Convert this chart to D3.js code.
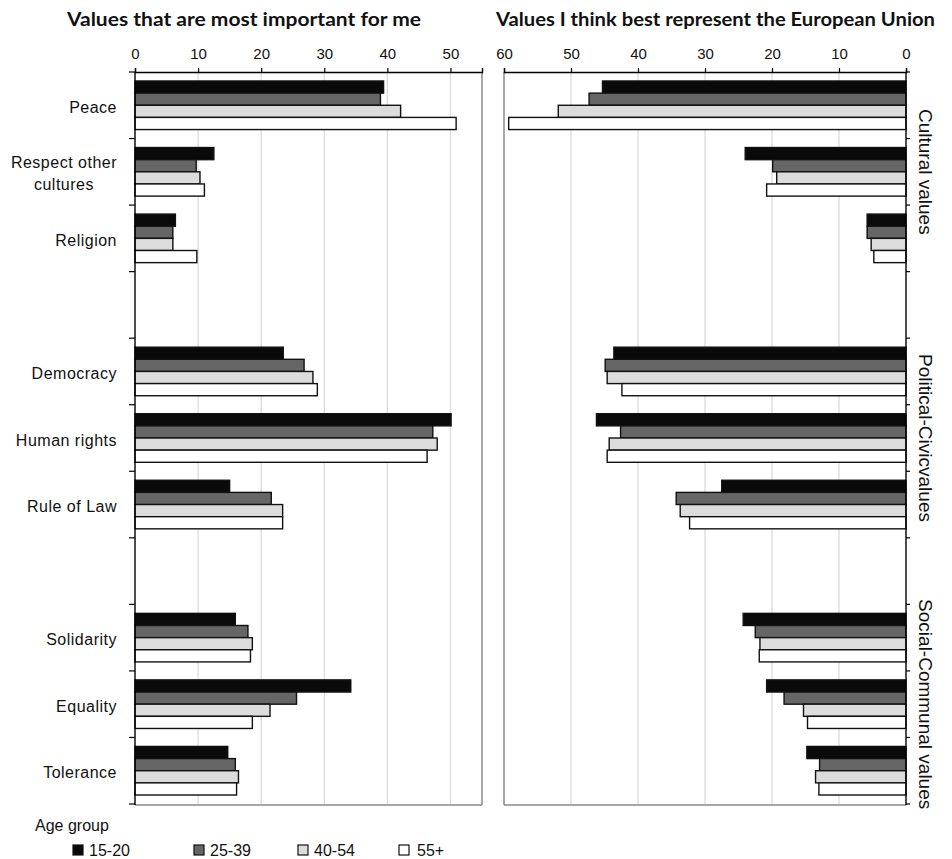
<!DOCTYPE html>
<html>
<head>
<meta charset="utf-8">
<script src="https://cdn.jsdelivr.net/npm/d3@7"></script>
<style>
  html, body { margin: 0; padding: 0; background: #fff; }
  svg { display: block; }
</style>
</head>
<body>
<svg id="chart" width="952" height="859"></svg>
<script>
// ---------- DATA ----------
const categories = ["Peace", "Respect other cultures", "Religion", "Democracy", "Human rights", "Rule of Law", "Solidarity", "Equality", "Tolerance"];
const categoryLines = [["Peace"], ["Respect other", "cultures"], ["Religion"], ["Democracy"], ["Human rights"], ["Rule of Law"], ["Solidarity"], ["Equality"], ["Tolerance"]];
const groups = ["Cultural values", "Political-Civicvalues", "Social-Communal values"];
const groupMembers = [[0, 1, 2], [3, 4, 5], [6, 7, 8]];
const ageGroups = ["15-20", "25-39", "40-54", "55+"];
const importantTicks = [0, 10, 20, 30, 40, 50];
const euTicks = [60, 50, 40, 30, 20, 10, 0];
const titleLeft = "Values that are most important for me";
const titleRight = "Values I think best represent the European Union";
const legendTitle = "Age group";

// "Values that are most important for me" (%)
const important_15_20 = [39.4, 12.5, 6.4, 23.5, 50.1, 15.0, 15.9, 34.2, 14.7];
const important_25_39 = [38.9, 9.7, 6.0, 26.8, 47.2, 21.6, 17.9, 25.6, 15.9];
const important_40_54 = [42.1, 10.3, 6.0, 28.2, 47.9, 23.4, 18.6, 21.4, 16.4];
const important_55plus = [50.9, 11.0, 9.8, 28.9, 46.3, 23.4, 18.3, 18.6, 16.1];
// "Values I think best represent the European Union" (%)
const eu_15_20 = [45.3, 24.0, 5.8, 43.6, 46.2, 27.5, 24.3, 20.8, 14.8];
const eu_25_39 = [47.3, 19.9, 5.8, 44.9, 42.6, 34.3, 22.5, 18.2, 12.9];
const eu_40_54 = [51.9, 19.3, 5.2, 44.6, 44.3, 33.7, 21.8, 15.3, 13.5];
const eu_55plus = [59.3, 20.8, 4.8, 42.4, 44.6, 32.3, 21.9, 14.7, 13.0];

const importantSeries = [important_15_20, important_25_39, important_40_54, important_55plus];
const euSeries = [eu_15_20, eu_25_39, eu_40_54, eu_55plus];

// ---------- LAYOUT ----------
const colors = ["#0a0a0a", "#666666", "#dcdcdc", "#ffffff"];
const svg = d3.select("#chart");
const yTop = 72, yBottom = 804;
const font = "'Liberation Sans', Arial, sans-serif";

// rows: categories with blank separator rows between groups
const rowKeys = [];
groupMembers.forEach((m, gi) => {
  if (gi > 0) rowKeys.push("gap" + gi);
  m.forEach(i => rowKeys.push(categories[i]));
});

const y = d3.scaleBand().domain(rowKeys).range([yTop, yBottom]).paddingInner(0.27).paddingOuter(0.135);
const ySub = d3.scaleBand().domain(ageGroups).range([0, y.bandwidth()]);
const step = y.step();

const xL = d3.scaleLinear().domain([0, 55]).range([135, 482]);
const xR = d3.scaleLinear().domain([60, 0]).range([504, 906]);

// ---------- GRIDLINES ----------
svg.append("g").selectAll("line").data(importantTicks.filter(t => t > 0)).join("line")
  .attr("x1", d => xL(d)).attr("x2", d => xL(d))
  .attr("y1", yTop).attr("y2", yBottom)
  .attr("stroke", "#d9d9d9").attr("stroke-width", 1.2);
svg.append("g").selectAll("line").data(euTicks.filter(t => t > 0 && t < 60)).join("line")
  .attr("x1", d => xR(d)).attr("x2", d => xR(d))
  .attr("y1", yTop).attr("y2", yBottom)
  .attr("stroke", "#d9d9d9").attr("stroke-width", 1.2);

// panel borders (gray)
const border = "#8a8a8a";
svg.append("line").attr("x1", xL(55)).attr("x2", xL(55)).attr("y1", yTop).attr("y2", yBottom + 1).attr("stroke", border).attr("stroke-width", 1.5);
svg.append("line").attr("x1", xL(0)).attr("x2", xL(55)).attr("y1", yBottom + 1).attr("y2", yBottom + 1).attr("stroke", border).attr("stroke-width", 1.5);
svg.append("line").attr("x1", xR(60)).attr("x2", xR(60)).attr("y1", yTop).attr("y2", yBottom + 1).attr("stroke", border).attr("stroke-width", 1.5);
svg.append("line").attr("x1", xR(60)).attr("x2", xR(0)).attr("y1", yBottom + 1).attr("y2", yBottom + 1).attr("stroke", border).attr("stroke-width", 1.5);

// ---------- BARS ----------
function drawBars(seriesList, xs, side) {
  const g = svg.append("g");
  seriesList.forEach((vals, si) => {
    g.append("g").selectAll("rect").data(vals).join("rect")
      .attr("x", d => side === "left" ? xs(0) : xs(d))
      .attr("width", d => Math.abs(xs(d) - xs(0)))
      .attr("y", (d, i) => y(categories[i]) + ySub(ageGroups[si]))
      .attr("height", ySub.bandwidth())
      .attr("fill", colors[si])
      .attr("stroke", "#111")
      .attr("stroke-width", 1.4);
  });
}
drawBars(importantSeries, xL, "left");
drawBars(euSeries, xR, "right");

// ---------- AXES ----------
const axL = svg.append("g").attr("transform", `translate(0,${yTop})`)
  .call(d3.axisTop(xL).tickValues(importantTicks).tickSize(4).tickPadding(9).tickFormat(d3.format("d")));
const axR = svg.append("g").attr("transform", `translate(0,${yTop})`)
  .call(d3.axisTop(xR).tickValues(euTicks).tickSize(4).tickPadding(9).tickFormat(d3.format("d")));
[axL, axR].forEach(a => {
  a.select(".domain").attr("stroke", "#000").attr("stroke-width", 1.4);
  a.selectAll(".tick line").attr("stroke", "#000").attr("stroke-width", 1.2);
  a.selectAll("text").attr("font-family", font).attr("font-size", 15).attr("fill", "#111");
});

// category axis lines (left of left panel, right of right panel)
const boundaries = d3.range(rowKeys.length + 1).map(i => yTop + i * step);
svg.append("line").attr("x1", xL(0)).attr("x2", xL(0)).attr("y1", yTop).attr("y2", yBottom + 1).attr("stroke", "#000").attr("stroke-width", 1.4);
svg.append("g").selectAll("line").data(boundaries).join("line")
  .attr("x1", xL(0) - 6).attr("x2", xL(0)).attr("y1", d => d).attr("y2", d => d)
  .attr("stroke", "#000").attr("stroke-width", 1.2);
svg.append("line").attr("x1", xR(0)).attr("x2", xR(0)).attr("y1", yTop).attr("y2", yBottom + 1).attr("stroke", "#000").attr("stroke-width", 1.4);
svg.append("g").selectAll("line").data(boundaries).join("line")
  .attr("x1", xR(0)).attr("x2", xR(0) + 4).attr("y1", d => d).attr("y2", d => d)
  .attr("stroke", "#000").attr("stroke-width", 1.2);

// category labels
const labelRight = 117;
categoryLines.forEach((lines, i) => {
  const cy = y(categories[i]) + y.bandwidth() / 2 + 2;
  const t = svg.append("text").attr("font-family", font).attr("font-size", 16)
    .attr("letter-spacing", 0.5).attr("fill", "#111");
  const lh = 22;
  const spans = lines.map((ln, li) => t.append("tspan").text(ln)
    .attr("y", cy + (li - (lines.length - 1) / 2) * lh).attr("dy", "0.35em"));
  const maxW = d3.max(spans, s => s.node().getComputedTextLength());
  spans.forEach(s => s.attr("x", labelRight - maxW / 2).attr("text-anchor", "middle"));
});

// group labels (vertical, right side)
groupMembers.forEach((m, gi) => {
  const y0 = y(categories[m[0]]) - step * 0.135;
  const y1 = y(categories[m[m.length - 1]]) + y.bandwidth() + step * 0.135;
  const cy = (y0 + y1) / 2;
  svg.append("text")
    .attr("transform", `translate(919,${cy}) rotate(90)`)
    .attr("text-anchor", "middle")
    .attr("font-family", font).attr("font-size", 19).attr("fill", "#111")
    .text(groups[gi]);
});

// titles
svg.append("text").attr("x", 67).attr("y", 26)
  .attr("font-family", "Lato, 'Open Sans', sans-serif").attr("font-weight", "bold").attr("font-size", 18.5)
  .attr("fill", "#111").attr("textLength", 354).attr("lengthAdjust", "spacingAndGlyphs").text(titleLeft);
svg.append("text").attr("x", 496).attr("y", 26)
  .attr("font-family", "Lato, 'Open Sans', sans-serif").attr("font-weight", "bold").attr("font-size", 18.5)
  .attr("fill", "#111").attr("textLength", 439).attr("lengthAdjust", "spacingAndGlyphs").text(titleRight);

// legend
svg.append("text").attr("x", 35).attr("y", 831)
  .attr("font-family", font).attr("font-size", 16).attr("fill", "#111").text(legendTitle);
const legendX = [73, 194, 298, 399];
const leg = svg.append("g").selectAll("g").data(ageGroups).join("g")
  .attr("transform", (d, i) => `translate(${legendX[i]},845)`);
leg.append("rect").attr("width", 10).attr("height", 10)
  .attr("fill", (d, i) => colors[i]).attr("stroke", "#111").attr("stroke-width", 1.2);
leg.append("text").attr("x", (d, i) => i === 3 ? 18 : 16).attr("y", 10.5)
  .attr("font-family", font).attr("font-size", 16).attr("fill", "#111").text(d => d);
</script>
</body>
</html>
